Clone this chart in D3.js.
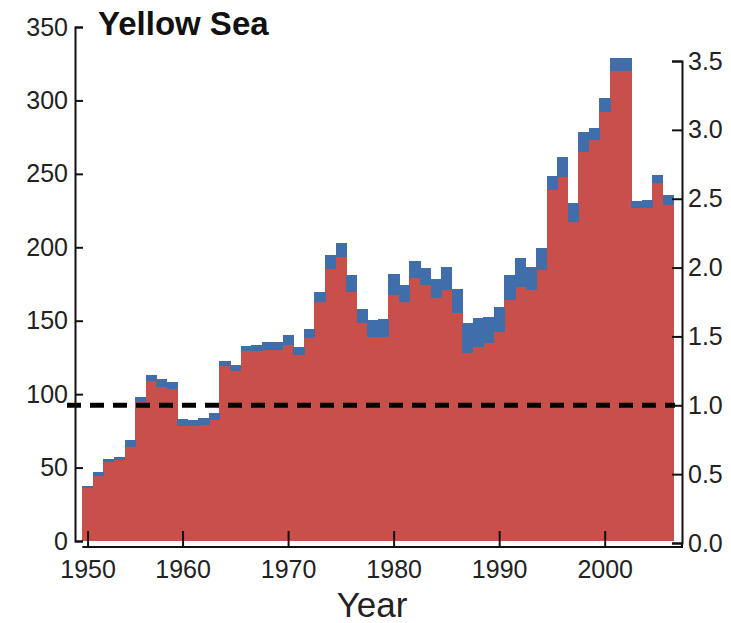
<!DOCTYPE html>
<html>
<head>
<meta charset="utf-8">
<script src="https://cdn.jsdelivr.net/npm/d3@7/dist/d3.min.js"></script>
<style>
  body { margin: 0; background: #fff; }
  svg { display: block; }
  text { font-family: "Liberation Sans", Arial, Helvetica, sans-serif; }
</style>
</head>
<body>
<svg id="chart" width="731" height="623"></svg>
<script>
// Annual values, one per year (left-axis units)
const years = [
  1951, 1952, 1953, 1954, 1955, 1956, 1957, 1958, 1959, 1960,
  1961, 1962, 1963, 1964, 1965, 1966, 1967, 1968, 1969, 1970,
  1971, 1972, 1973, 1974, 1975, 1976, 1977, 1978, 1979, 1980,
  1981, 1982, 1983, 1984, 1985, 1986, 1987, 1988, 1989, 1990,
  1991, 1992, 1993, 1994, 1995, 1996, 1997, 1998, 1999, 2000,
  2001, 2002, 2003, 2004, 2005, 2006
];

// Lower (red) layer
const redValues = [
  36.3, 44.3, 54.0, 55.0, 64.0, 94.9, 109.0, 105.0, 103.3, 78.3,
  78.0, 79.0, 82.4, 119.0, 115.5, 129.6, 129.6, 130.0, 130.0, 133.5,
  126.7, 138.0, 163.0, 185.0, 193.6, 169.8, 148.2, 139.0, 139.0, 167.5,
  163.0, 178.9, 174.3, 165.3, 170.9, 155.0, 127.8, 132.3, 134.6, 142.5,
  164.1, 173.2, 170.9, 184.5, 239.0, 248.0, 217.4, 265.1, 273.0, 292.3,
  320.3, 320.3, 226.5, 227.0, 243.6, 228.8
];

// Upper (blue) layer, stacked on the red one
const blueValues = [
  1.4, 2.5, 1.6, 2.4, 4.8, 3.4, 4.0, 5.3, 5.2, 4.5,
  4.5, 4.5, 4.6, 3.8, 4.3, 3.4, 3.9, 5.5, 5.7, 6.8,
  5.6, 6.4, 6.3, 9.7, 9.5, 11.3, 9.8, 11.5, 12.0, 14.1,
  11.3, 12.0, 11.4, 12.9, 15.9, 16.4, 20.4, 19.3, 17.7, 17.0,
  17.0, 19.3, 15.9, 14.8, 9.5, 13.7, 12.5, 13.6, 8.0, 9.1,
  8.4, 8.4, 5.2, 5.5, 5.6, 6.8
];

const leftTicks = [0, 50, 100, 150, 200, 250, 300, 350];
const rightTicks = [0.0, 0.5, 1.0, 1.5, 2.0, 2.5, 3.0, 3.5];
const xTickYears = [1951, 1960, 1970, 1980, 1990, 2000];
const xTickLabels = ["1950", "1960", "1970", "1980", "1990", "2000"];
const referenceLevel = 1.0;   // dashed line, right-axis units

const title = "Yellow Sea";
const xTitle = "Year";

const layerColors = { red: "#c84f4a", blue: "#3f6eab" };

// ---- layout ----
const svg = d3.select("#chart");
const leftAxisX = 75;
const rightAxisX = 682;
const xAxisY = 547;

const x = d3.scaleLinear()
  .domain([years[0] - 0.5, years[years.length - 1] + 0.5])
  .range([82.3, 673.3]);

const yLeft = d3.scaleLinear().domain([0, 350]).range([541, 27]);
const yRight = d3.scaleLinear().domain([0, 3.5]).range([543, 61]);

// ---- stacked step bars ----
const rows = years.map((yr, i) => ({ year: yr, red: redValues[i], blue: blueValues[i] }));
const stack = d3.stack().keys(["red", "blue"]);
const layers = stack(rows);

const gBars = svg.append("g").attr("shape-rendering", "crispEdges");
layers.forEach(layer => {
  gBars.append("g")
    .attr("fill", layerColors[layer.key])
    .selectAll("rect")
    .data(layer)
    .join("rect")
      .attr("x", d => x(d.data.year - 0.5))
      .attr("width", d => x(d.data.year + 0.5) - x(d.data.year - 0.5) + 0.6)
      .attr("y", d => yLeft(d[1]))
      .attr("height", d => yLeft(d[0]) - yLeft(d[1]));
});

// ---- reference line ----
svg.append("line")
  .attr("x1", 67).attr("x2", 675)
  .attr("y1", yRight(referenceLevel)).attr("y2", yRight(referenceLevel))
  .attr("stroke", "#000")
  .attr("stroke-width", 5)
  .attr("stroke-dasharray", "14,9");

// ---- axes ----
const tickFont = 25;
const styleAxis = g => {
  g.selectAll("path, line").attr("stroke", "#111").attr("stroke-width", 2);
  g.selectAll("text")
    .attr("fill", "#222")
    .style("font-size", tickFont + "px")
    .style("font-family", "'Liberation Sans', Arial, sans-serif");
};

svg.append("g")
  .attr("transform", `translate(${leftAxisX},0)`)
  .call(d3.axisLeft(yLeft).tickValues(leftTicks).tickSize(-8).tickSizeOuter(-8).tickPadding(7).tickFormat(d3.format("d")))
  .call(g => g.select(".domain").attr("fill", "none"))
  .call(styleAxis);

svg.append("g")
  .attr("transform", `translate(${rightAxisX},0)`)
  .call(d3.axisRight(yRight).tickValues(rightTicks).tickSize(-10).tickSizeOuter(-10).tickPadding(6).tickFormat(d3.format(".1f")))
  .call(g => g.select(".domain").attr("fill", "none"))
  .call(styleAxis);

svg.append("g")
  .attr("transform", `translate(0,${xAxisY})`)
  .call(d3.axisBottom(x).tickValues(xTickYears).tickSize(-16).tickPadding(13)
    .tickFormat((d, i) => xTickLabels[i]))
  .call(g => g.select(".domain").remove())
  .call(styleAxis);

// bottom frame line, running from the first bar to the right axis
svg.append("path")
  .attr("d", `M${x.range()[0]},${xAxisY}H${rightAxisX}V${yRight(0)}`)
  .attr("fill", "none")
  .attr("stroke", "#111")
  .attr("stroke-width", 2);

// ---- titles ----
svg.append("text")
  .attr("x", 98).attr("y", 35)
  .attr("fill", "#111")
  .style("font-size", "33px")
  .style("font-weight", "bold")
  .text(title);

svg.append("text")
  .attr("x", 372).attr("y", 617)
  .attr("text-anchor", "middle")
  .attr("fill", "#222")
  .style("font-size", "35px")
  .text(xTitle);
</script>
</body>
</html>
